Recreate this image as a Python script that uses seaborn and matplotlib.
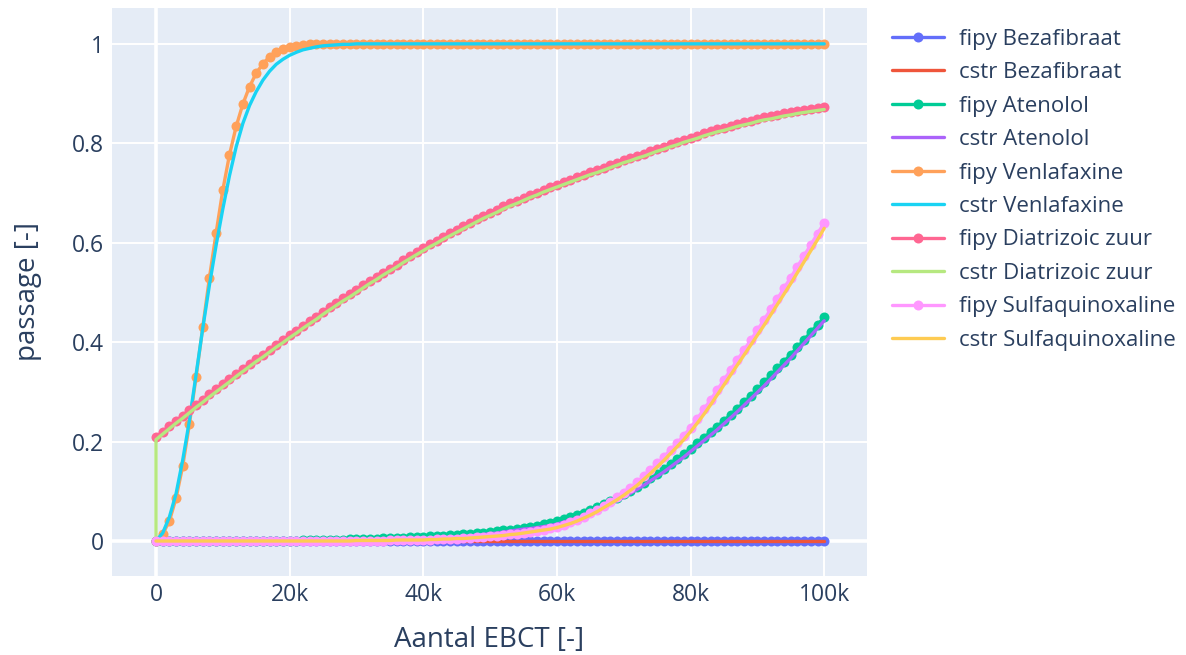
import matplotlib
matplotlib.use("Agg")
import matplotlib.pyplot as plt
from matplotlib.ticker import FuncFormatter
import seaborn as sns
import pandas as pd

# EBCT grid (fipy runs) and cstr grid (extra start point at 0)
ebct = list(range(0, 100001, 1000))
ebct_cstr = [0] + ebct

fipy_bezafibraat = [
    0.0, 0.0, 0.0, 0.0, 0.0, 0.0, 0.0, 0.0, 0.0, 0.0,
    0.0, 0.0, 0.0, 0.0, 0.0, 0.0, 0.0, 0.0, 0.0, 0.0,
    0.0, 0.0, 0.0, 0.0, 0.0, 0.0, 0.0, 0.0, 0.0, 0.0,
    0.0, 0.0, 0.0, 0.0, 0.0, 0.0, 0.0, 0.0, 0.0, 0.0,
    0.0, 0.0, 0.0, 0.0, 0.0, 0.0, 0.0, 0.0, 0.0, 0.0,
    0.0, 0.0, 0.0, 0.0, 0.0, 0.0, 0.0, 0.0, 0.0, 0.0,
    0.0, 0.0, 0.0, 0.0, 0.0, 0.0, 0.0, 0.0, 0.0, 0.0,
    0.0, 0.0, 0.0, 0.0, 0.0, 0.0, 0.0, 0.0, 0.0, 0.0,
    0.0, 0.0, 0.0, 0.0, 0.0, 0.0, 0.0, 0.0, 0.0, 0.0,
    0.0, 0.0, 0.0, 0.0, 0.0, 0.0, 0.0, 0.0, 0.0, 0.0,
    0.0,
]
cstr_bezafibraat = [0.0] + [
    0.0, 0.0, 0.0, 0.0, 0.0, 0.0, 0.0, 0.0, 0.0, 0.0,
    0.0, 0.0, 0.0, 0.0, 0.0, 0.0, 0.0, 0.0, 0.0, 0.0,
    0.0, 0.0, 0.0, 0.0, 0.0, 0.0, 0.0, 0.0, 0.0, 0.0,
    0.0, 0.0, 0.0, 0.0, 0.0, 0.0, 0.0, 0.0, 0.0, 0.0,
    0.0, 0.0, 0.0, 0.0, 0.0, 0.0, 0.0, 0.0, 0.0, 0.0,
    0.0, 0.0, 0.0, 0.0, 0.0, 0.0, 0.0, 0.0, 0.0, 0.0,
    0.0, 0.0, 0.0, 0.0, 0.0, 0.0, 0.0, 0.0, 0.0, 0.0,
    0.0, 0.0, 0.0, 0.0, 0.0, 0.0, 0.0, 0.0, 0.0, 0.0,
    0.0, 0.0, 0.0, 0.0, 0.0, 0.0, 0.0, 0.0, 0.0, 0.0,
    0.0, 0.0, 0.0, 0.0, 0.0, 0.0, 0.0, 0.0, 0.0, 0.0,
    0.0,
]

fipy_atenolol = [
    0.0, 0.0, 0.0, 0.0, 0.0, 0.0, 0.0, 0.0, 0.0, 0.0,
    0.0, 0.0, 0.0, 0.0, 0.0, 0.0, 0.0, 0.001, 0.001, 0.001,
    0.001, 0.001, 0.002, 0.002, 0.002, 0.002, 0.003, 0.003, 0.003, 0.004,
    0.004, 0.004, 0.005, 0.005, 0.006, 0.006, 0.007, 0.007, 0.008, 0.008,
    0.009, 0.010, 0.010, 0.011, 0.012, 0.013, 0.014, 0.015, 0.016, 0.017,
    0.019, 0.020, 0.022, 0.023, 0.025, 0.027, 0.029, 0.031, 0.034, 0.037,
    0.040, 0.044, 0.048, 0.052, 0.057, 0.062, 0.068, 0.074, 0.080, 0.087,
    0.094, 0.101, 0.109, 0.117, 0.126, 0.135, 0.145, 0.155, 0.165, 0.175,
    0.186, 0.197, 0.208, 0.219, 0.230, 0.242, 0.254, 0.266, 0.279, 0.292,
    0.305, 0.319, 0.333, 0.347, 0.361, 0.375, 0.390, 0.405, 0.420, 0.435,
    0.450,
]
cstr_atenolol = [0.0] + [
    0.0, 0.0, 0.0, 0.0, 0.0, 0.0, 0.0, 0.0, 0.0, 0.0,
    0.0, 0.0, 0.0, 0.0, 0.0, 0.0, 0.0, 0.0, 0.0, 0.0,
    0.0, 0.0, 0.0, 0.0, 0.0, 0.001, 0.001, 0.001, 0.001, 0.001,
    0.002, 0.002, 0.002, 0.002, 0.003, 0.003, 0.003, 0.003, 0.004, 0.004,
    0.004, 0.005, 0.005, 0.006, 0.007, 0.008, 0.009, 0.010, 0.012, 0.013,
    0.015, 0.016, 0.018, 0.020, 0.022, 0.024, 0.025, 0.027, 0.029, 0.031,
    0.034, 0.038, 0.042, 0.046, 0.051, 0.056, 0.062, 0.068, 0.074, 0.081,
    0.088, 0.096, 0.104, 0.112, 0.121, 0.130, 0.139, 0.149, 0.159, 0.169,
    0.180, 0.191, 0.202, 0.213, 0.224, 0.236, 0.248, 0.260, 0.273, 0.286,
    0.299, 0.312, 0.326, 0.340, 0.354, 0.368, 0.383, 0.398, 0.413, 0.428,
    0.443,
]

fipy_venlafaxine = [
    0.000, 0.014, 0.040, 0.086, 0.151, 0.235, 0.330, 0.430, 0.530, 0.620,
    0.706, 0.777, 0.834, 0.879, 0.914, 0.941, 0.960, 0.974, 0.984, 0.990,
    0.994, 0.996, 0.998, 0.999, 0.999, 1.0, 1.0, 1.0, 1.0, 1.0,
    1.0, 1.0, 1.0, 1.0, 1.0, 1.0, 1.0, 1.0, 1.0, 1.0,
    1.0, 1.0, 1.0, 1.0, 1.0, 1.0, 1.0, 1.0, 1.0, 1.0,
    1.0, 1.0, 1.0, 1.0, 1.0, 1.0, 1.0, 1.0, 1.0, 1.0,
    1.0, 1.0, 1.0, 1.0, 1.0, 1.0, 1.0, 1.0, 1.0, 1.0,
    1.0, 1.0, 1.0, 1.0, 1.0, 1.0, 1.0, 1.0, 1.0, 1.0,
    1.0, 1.0, 1.0, 1.0, 1.0, 1.0, 1.0, 1.0, 1.0, 1.0,
    1.0, 1.0, 1.0, 1.0, 1.0, 1.0, 1.0, 1.0, 1.0, 1.0,
    1.0,
]
cstr_venlafaxine = [0.0] + [
    0.000, 0.016, 0.048, 0.095, 0.163, 0.242, 0.335, 0.428, 0.515, 0.595,
    0.668, 0.735, 0.793, 0.840, 0.876, 0.904, 0.927, 0.945, 0.959, 0.969,
    0.977, 0.983, 0.988, 0.991, 0.994, 0.996, 0.997, 0.998, 0.999, 0.999,
    1.0, 1.0, 1.0, 1.0, 1.0, 1.0, 1.0, 1.0, 1.0, 1.0,
    1.0, 1.0, 1.0, 1.0, 1.0, 1.0, 1.0, 1.0, 1.0, 1.0,
    1.0, 1.0, 1.0, 1.0, 1.0, 1.0, 1.0, 1.0, 1.0, 1.0,
    1.0, 1.0, 1.0, 1.0, 1.0, 1.0, 1.0, 1.0, 1.0, 1.0,
    1.0, 1.0, 1.0, 1.0, 1.0, 1.0, 1.0, 1.0, 1.0, 1.0,
    1.0, 1.0, 1.0, 1.0, 1.0, 1.0, 1.0, 1.0, 1.0, 1.0,
    1.0, 1.0, 1.0, 1.0, 1.0, 1.0, 1.0, 1.0, 1.0, 1.0,
    1.0,
]

fipy_diatrizoic = [
    0.209, 0.220, 0.231, 0.242, 0.252, 0.263, 0.274, 0.284, 0.295, 0.305,
    0.315, 0.325, 0.336, 0.346, 0.356, 0.366, 0.375, 0.385, 0.395, 0.404,
    0.414, 0.423, 0.433, 0.442, 0.451, 0.461, 0.470, 0.479, 0.488, 0.496,
    0.505, 0.514, 0.523, 0.531, 0.540, 0.548, 0.556, 0.565, 0.573, 0.581,
    0.589, 0.597, 0.604, 0.612, 0.619, 0.626, 0.633, 0.640, 0.647, 0.654,
    0.660, 0.666, 0.673, 0.679, 0.684, 0.690, 0.696, 0.701, 0.707, 0.712,
    0.717, 0.722, 0.727, 0.732, 0.737, 0.742, 0.746, 0.751, 0.756, 0.761,
    0.766, 0.770, 0.775, 0.779, 0.784, 0.789, 0.793, 0.798, 0.802, 0.807,
    0.811, 0.815, 0.820, 0.824, 0.828, 0.831, 0.835, 0.839, 0.842, 0.845,
    0.849, 0.852, 0.854, 0.857, 0.860, 0.862, 0.865, 0.867, 0.869, 0.871,
    0.873,
]
cstr_diatrizoic = [0.0] + [
    0.204, 0.215, 0.226, 0.237, 0.247, 0.258, 0.269, 0.279, 0.290, 0.300,
    0.310, 0.320, 0.331, 0.341, 0.351, 0.361, 0.370, 0.380, 0.390, 0.399,
    0.409, 0.418, 0.428, 0.437, 0.446, 0.456, 0.465, 0.474, 0.483, 0.491,
    0.500, 0.509, 0.518, 0.526, 0.535, 0.543, 0.551, 0.560, 0.568, 0.576,
    0.584, 0.592, 0.599, 0.607, 0.614, 0.621, 0.628, 0.635, 0.642, 0.649,
    0.655, 0.661, 0.668, 0.674, 0.679, 0.685, 0.691, 0.696, 0.702, 0.707,
    0.712, 0.717, 0.722, 0.727, 0.732, 0.737, 0.741, 0.746, 0.751, 0.756,
    0.761, 0.765, 0.770, 0.774, 0.779, 0.784, 0.788, 0.793, 0.797, 0.802,
    0.806, 0.810, 0.815, 0.819, 0.823, 0.826, 0.830, 0.834, 0.837, 0.840,
    0.844, 0.847, 0.849, 0.852, 0.855, 0.857, 0.860, 0.862, 0.864, 0.866,
    0.868,
]

fipy_sulfaquinoxaline = [
    0.0, 0.0, 0.0, 0.0, 0.0, 0.0, 0.0, 0.0, 0.0, 0.0,
    0.0, 0.0, 0.0, 0.0, 0.0, 0.0, 0.0, 0.0, 0.0, 0.0,
    0.0, 0.0, 0.0, 0.0, 0.0, 0.0, 0.0, 0.0, 0.0, 0.0,
    0.001, 0.001, 0.001, 0.001, 0.001, 0.002, 0.002, 0.002, 0.002, 0.002,
    0.003, 0.003, 0.004, 0.004, 0.005, 0.005, 0.006, 0.007, 0.008, 0.009,
    0.010, 0.011, 0.012, 0.014, 0.015, 0.017, 0.019, 0.021, 0.023, 0.026,
    0.029, 0.033, 0.038, 0.043, 0.049, 0.056, 0.063, 0.071, 0.079, 0.088,
    0.097, 0.107, 0.118, 0.130, 0.143, 0.156, 0.169, 0.183, 0.197, 0.212,
    0.228, 0.246, 0.265, 0.284, 0.304, 0.324, 0.344, 0.364, 0.384, 0.404,
    0.424, 0.445, 0.466, 0.487, 0.509, 0.530, 0.552, 0.574, 0.596, 0.618,
    0.640,
]
cstr_sulfaquinoxaline = [0.0] + [
    0.0, 0.0, 0.0, 0.0, 0.0, 0.0, 0.0, 0.0, 0.0, 0.0,
    0.0, 0.0, 0.0, 0.0, 0.0, 0.0, 0.0, 0.0, 0.0, 0.0,
    0.0, 0.0, 0.0, 0.0, 0.0, 0.0, 0.0, 0.0, 0.0, 0.0,
    0.001, 0.001, 0.001, 0.001, 0.001, 0.001, 0.002, 0.002, 0.002, 0.002,
    0.002, 0.003, 0.003, 0.004, 0.004, 0.005, 0.005, 0.006, 0.007, 0.008,
    0.009, 0.010, 0.011, 0.013, 0.014, 0.016, 0.018, 0.020, 0.022, 0.024,
    0.027, 0.031, 0.035, 0.040, 0.046, 0.052, 0.059, 0.067, 0.075, 0.083,
    0.092, 0.102, 0.112, 0.124, 0.136, 0.149, 0.162, 0.176, 0.190, 0.204,
    0.220, 0.237, 0.255, 0.274, 0.294, 0.314, 0.334, 0.354, 0.374, 0.394,
    0.414, 0.434, 0.455, 0.476, 0.497, 0.518, 0.540, 0.562, 0.584, 0.606,
    0.629,
]

compounds = ["Bezafibraat", "Atenolol", "Venlafaxine", "Diatrizoic zuur", "Sulfaquinoxaline"]
fipy_runs = [fipy_bezafibraat, fipy_atenolol, fipy_venlafaxine, fipy_diatrizoic, fipy_sulfaquinoxaline]
cstr_runs = [cstr_bezafibraat, cstr_atenolol, cstr_venlafaxine, cstr_diatrizoic, cstr_sulfaquinoxaline]
fipy_colors = ["#636EFA", "#00CC96", "#FFA15A", "#FF6692", "#FF97FF"]
cstr_colors = ["#EF553B", "#AB63FA", "#19D3F3", "#B6E880", "#FECB52"]

TEXT = "#2a3f5f"
sns.set_theme(style="darkgrid", rc={
    "axes.facecolor": "#E5ECF6",
    "grid.color": "white",
    "grid.linewidth": 1.4,
    "axes.edgecolor": "#E5ECF6",
})
plt.rcParams["font.family"] = ["Open Sans", "DejaVu Sans"]

fig = plt.figure(figsize=(11.86, 6.55), dpi=100)
ax = fig.add_axes([0.0944, 0.1206, 0.731 - 0.0944, 0.988 - 0.1206])

for name, fy, cy, fc, cc in zip(compounds, fipy_runs, cstr_runs, fipy_colors, cstr_colors):
    fdf = pd.DataFrame({"ebct": ebct, "passage": fy})
    cdf = pd.DataFrame({"ebct": ebct_cstr, "passage": cy})
    sns.lineplot(data=fdf, x="ebct", y="passage", ax=ax, color=fc, lw=2.4,
                 marker="o", markersize=7.2, markeredgewidth=0,
                 estimator=None, sort=False, label=f"fipy {name}")
    sns.lineplot(data=cdf, x="ebct", y="passage", ax=ax, color=cc, lw=2.4,
                 estimator=None, sort=False, label=f"cstr {name}")

ax.set_xlim(-6590, 106400)
ax.set_ylim(-0.0704, 1.0724)
ax.set_xticks([0, 20000, 40000, 60000, 80000, 100000])
ax.set_yticks([0, 0.2, 0.4, 0.6, 0.8, 1.0])
ax.xaxis.set_major_formatter(FuncFormatter(lambda v, p: "0" if v == 0 else f"{int(v / 1000)}k"))
ax.yaxis.set_major_formatter(FuncFormatter(lambda v, p: "0" if v == 0 else ("1" if v == 1 else f"{v:.1f}")))
ax.axhline(0, color="white", lw=2.6, zorder=0.9)
ax.axvline(0, color="white", lw=2.6, zorder=0.9)
ax.tick_params(axis="both", length=0, labelsize=16.5, labelcolor=TEXT)
ax.tick_params(axis="x", pad=5)
ax.tick_params(axis="y", pad=6)
for s in ax.spines.values():
    s.set_visible(False)

ax.set_xlabel("Aantal EBCT [-]", fontsize=20, color=TEXT, labelpad=14)
ax.set_ylabel("passage [-]", fontsize=20, color=TEXT, labelpad=21)

handles, labels = ax.get_legend_handles_labels()
ax.get_legend().remove()
fig.legend(handles, labels, loc="upper left", bbox_to_anchor=(0.752, 0.956),
           bbox_transform=fig.transFigure, frameon=False, fontsize=16,
           labelcolor=TEXT, handlelength=2.35, handletextpad=0.68,
           labelspacing=0.56, borderpad=0, borderaxespad=0)

fig.savefig("out.png", dpi=100)
